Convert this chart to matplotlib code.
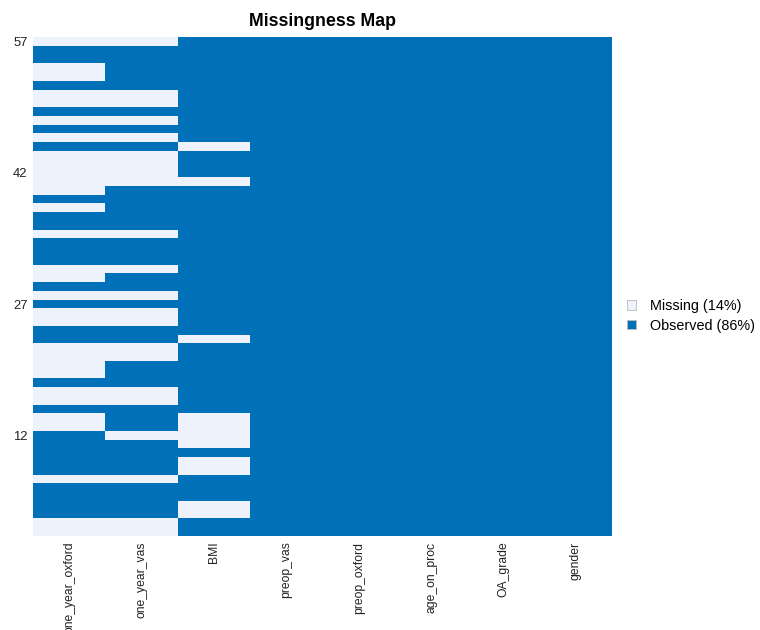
import matplotlib
matplotlib.use("Agg")
import matplotlib.pyplot as plt
import numpy as np
from matplotlib.patches import Patch
from matplotlib.colors import ListedColormap

plt.rcParams['font.family'] = ['Liberation Sans', 'DejaVu Sans']

variables = ["one_year_oxford", "one_year_vas", "BMI", "preop_vas",
             "preop_oxford", "age_on_proc", "OA_grade", "gender"]
n_rows = 57
y_tick_rows = [57, 42, 27, 12]

# Row numbers (1 = bottom, 57 = top) with missing values per variable
missing_one_year_oxford = [57, 54, 53, 51, 50, 48, 46, 44, 43, 42, 41, 40, 38, 35,
                           31, 30, 28, 26, 25, 22, 21, 20, 19, 17, 16, 14, 13, 7, 2, 1]
missing_one_year_vas = [57, 51, 50, 48, 46, 44, 43, 42, 41, 35, 31, 28, 26, 25,
                        22, 21, 17, 16, 12, 7, 2, 1]
missing_BMI = [45, 41, 23, 14, 13, 12, 11, 9, 8, 4, 3]
missing_by_var = {
    "one_year_oxford": missing_one_year_oxford,
    "one_year_vas": missing_one_year_vas,
    "BMI": missing_BMI,
}

col_missing = "#EEF2FC"
col_observed = "#0070B9"

# matrix: 1 = missing, 0 = observed ; row index 0 corresponds to row number 1
mat = np.zeros((n_rows, len(variables)))
for j, v in enumerate(variables):
    for r in missing_by_var.get(v, []):
        mat[r - 1, j] = 1

pct_missing = int(round(100 * mat.mean()))
pct_observed = 100 - pct_missing

fig = plt.figure(figsize=(7.6, 6.3), dpi=100)
ax = fig.add_axes([33 / 760, 1 - 536 / 630, (612 - 33) / 760, (536 - 37) / 630])

x_edges = np.arange(len(variables) + 1)
y_edges = np.arange(n_rows + 1) + 0.5
ax.pcolormesh(x_edges, y_edges, mat, cmap=ListedColormap([col_observed, col_missing]),
              vmin=0, vmax=1, shading='flat')
ax.set_xlim(0, len(variables))
ax.set_ylim(0.5, n_rows + 0.5)

ax.set_xticks(np.arange(len(variables)) + 0.5)
ax.set_xticklabels(variables, rotation=90, fontsize=8.7, color="#222222")
ax.set_yticks(y_tick_rows)
ax.set_yticklabels([str(r) for r in y_tick_rows], fontsize=9.4, color="#222222")
ax.tick_params(length=0, pad=4)
for s in ax.spines.values():
    s.set_visible(False)

ax.set_title("Missingness Map", fontsize=12.8, fontweight='bold', pad=8)

handles = [Patch(facecolor=col_missing, edgecolor="#BBBBBB", linewidth=0.6,
                 label=f"Missing ({pct_missing}%)"),
           Patch(facecolor=col_observed, edgecolor="#BBBBBB", linewidth=0.6,
                 label=f"Observed ({pct_observed}%)")]
fig.legend(handles=handles, loc='center left', bbox_to_anchor=(624 / 760, 1 - 316 / 630),
           frameon=False, fontsize=10.4, handlelength=0.65, handleheight=0.65,
           handletextpad=0.95, labelspacing=0.38, borderaxespad=0, borderpad=0.2)

fig.savefig("out.png", dpi=100)
